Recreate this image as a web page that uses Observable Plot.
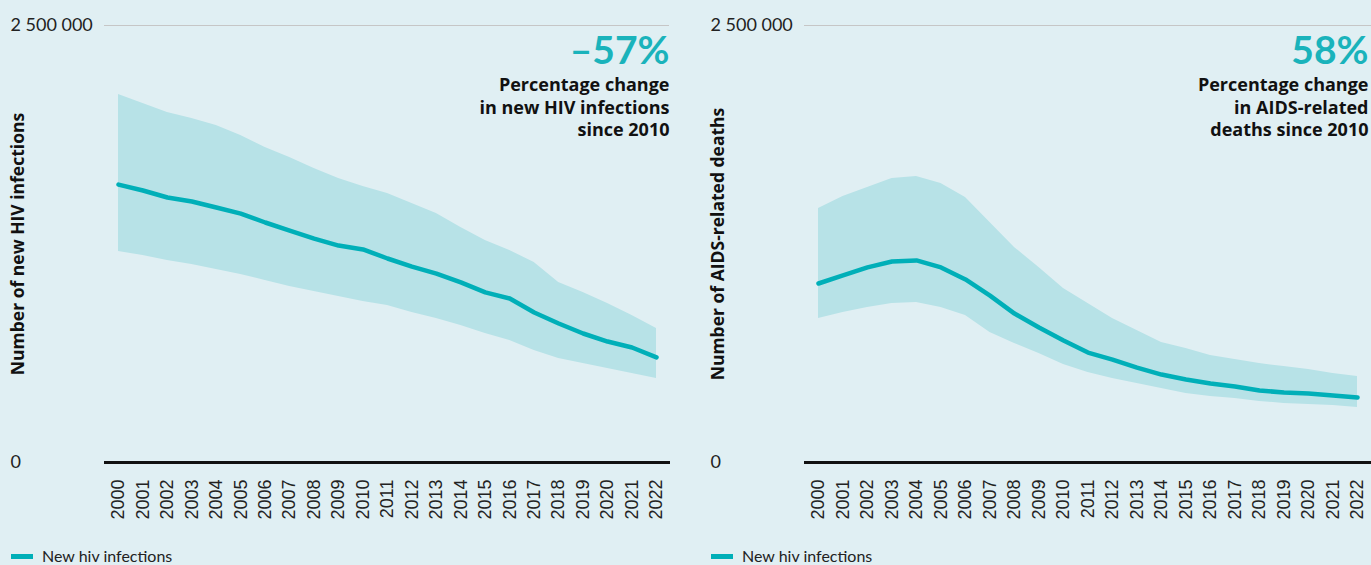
<!DOCTYPE html>
<html>
<head>
<meta charset="utf-8">
<script src="https://cdn.jsdelivr.net/npm/d3@7"></script>
<script src="https://cdn.jsdelivr.net/npm/@observablehq/plot@0.6"></script>
<style>
  html, body { margin: 0; padding: 0; background: #e0eff3; }
  #wrap { position: relative; width: 1371px; height: 565px; overflow: hidden; background: #e0eff3; }
  .panel { position: absolute; top: 0; }
  .legend { position: absolute; top: 548px; height: 16px; font: 16px Lato, sans-serif; color: #222; white-space: nowrap; }
  .legend .sw { position: absolute; left: 0; top: 6px; width: 22px; height: 5px; background: #00afb8; }
  .legend .lb { position: absolute; left: 31px; top: 0; line-height: 16px; }
</style>
</head>
<body>
<div id="wrap"></div>
<script>
const years = [2000,2001,2002,2003,2004,2005,2006,2007,2008,2009,2010,2011,2012,2013,2014,2015,2016,2017,2018,2019,2020,2021,2022];

const infectionsMid  = [1590000,1556000,1516000,1493000,1459000,1424000,1373000,1327000,1281000,1241000,1219000,1167000,1121000,1081000,1030000,973000,938000,858000,795000,738000,692000,658000,601000];
const infectionsHigh = [2105000,2054000,2002000,1968000,1928000,1871000,1802000,1745000,1682000,1625000,1579000,1539000,1482000,1424000,1344000,1270000,1213000,1144000,1030000,973000,910000,841000,767000];
const infectionsLow  = [1207000,1184000,1156000,1133000,1104000,1076000,1041000,1007000,978000,950000,921000,898000,858000,824000,784000,738000,698000,641000,595000,566000,538000,509000,481000];

const deathsMid  = [1024000,1070000,1116000,1150000,1156000,1116000,1047000,955000,852000,772000,698000,629000,589000,543000,503000,475000,452000,435000,412000,400000,395000,383000,372000];
const deathsHigh = [1453000,1522000,1573000,1625000,1636000,1596000,1516000,1373000,1230000,1116000,995000,910000,824000,755000,687000,652000,612000,589000,566000,549000,532000,509000,492000];
const deathsLow  = [824000,858000,887000,910000,915000,887000,841000,744000,681000,624000,561000,515000,481000,452000,423000,395000,378000,366000,349000,338000,332000,326000,315000];

const yTicks = [0, 2500000];
const legendLabel = "New hiv infections";

const panels = [
  { left: 0, width: 700, marginRight: 44, mid: infectionsMid, low: infectionsLow, high: infectionsHigh,
    yLabel: "Number of new HIV infections", pct: "\u201357%",
    note: "Percentage change\nin new HIV infections\nsince 2010",
    gridR: -13, baseR: -14, noteDx: 13 },
  { left: 700, width: 671, marginRight: 14, mid: deathsMid, low: deathsLow, high: deathsHigh,
    yLabel: "Number of AIDS-related deaths", pct: "58%",
    note: "Percentage change\nin AIDS-related\ndeaths since 2010",
    gridR: -14, baseR: -14, noteDx: 11 }
];

const fmt = d3.formatLocale({ decimal: ".", thousands: " ", grouping: [3], currency: ["", ""] }).format(",d");
const wrap = document.getElementById("wrap");

for (const p of panels) {
  const rows = years.map((year, i) => ({ year, mid: p.mid[i], low: p.low[i], high: p.high[i] }));
  const chart = Plot.plot({
    width: p.width,
    height: 540,
    marginTop: 25,
    marginBottom: 78,
    marginLeft: 118,
    marginRight: p.marginRight,
    style: { background: "transparent", fontFamily: "Lato, sans-serif", color: "#222", overflow: "visible" },
    x: { type: "linear", domain: [2000, 2022] },
    y: { domain: [0, 2500000] },
    marks: [
      Plot.ruleY([2500000], { stroke: "#c6c6c6", strokeWidth: 1, insetLeft: -14, insetRight: p.gridR }),
      Plot.areaY(rows, { x: "year", y1: "low", y2: "high", fill: "#b7e2e7" }),
      Plot.lineY(rows, { x: "year", y: "mid", stroke: "#00afb8", strokeWidth: 4.5, strokeLinejoin: "round" }),
      Plot.ruleY([0], { stroke: "#111", strokeWidth: 3, insetLeft: -14, insetRight: p.baseR }),
      Plot.axisY({ ticks: yTicks, tickFormat: fmt, tickSize: 0, tickPadding: 108, textAnchor: "start", fontSize: 18, fill: "#222", label: null }),
      Plot.axisX({ ticks: years, tickFormat: d => String(d), tickRotate: -90, tickSize: 0, tickPadding: 17, fontSize: 18, fontFamily: "Liberation Sans, Arial, sans-serif", fill: "#222", label: null }),
      Plot.text([p.yLabel], { frameAnchor: "left", textAnchor: "middle", rotate: -90, dx: -100, fontWeight: "bold", fontSize: 17.5, fontFamily: "Open Sans, sans-serif", fill: "#111" }),
      Plot.text([p.pct], { frameAnchor: "top-right", textAnchor: "end", lineAnchor: "top", dx: p.noteDx, dy: 11, fontSize: 39, fontWeight: "bold", fill: "#1ab3bb" }),
      Plot.text([p.note], { frameAnchor: "top-right", textAnchor: "end", lineAnchor: "top", lineHeight: 1.25, dx: p.noteDx, dy: 50, fontSize: 18, fontWeight: "bold", fontFamily: "Open Sans, sans-serif", fill: "#111" })
    ]
  });
  const div = document.createElement("div");
  div.className = "panel";
  div.style.left = p.left + "px";
  div.appendChild(chart);
  wrap.appendChild(div);

  const lg = document.createElement("div");
  lg.className = "legend";
  lg.style.left = (p.left + 11) + "px";
  lg.innerHTML = '<span class="sw"></span><span class="lb"></span>';
  lg.querySelector(".lb").textContent = legendLabel;
  wrap.appendChild(lg);
}
</script>
</body>
</html>
